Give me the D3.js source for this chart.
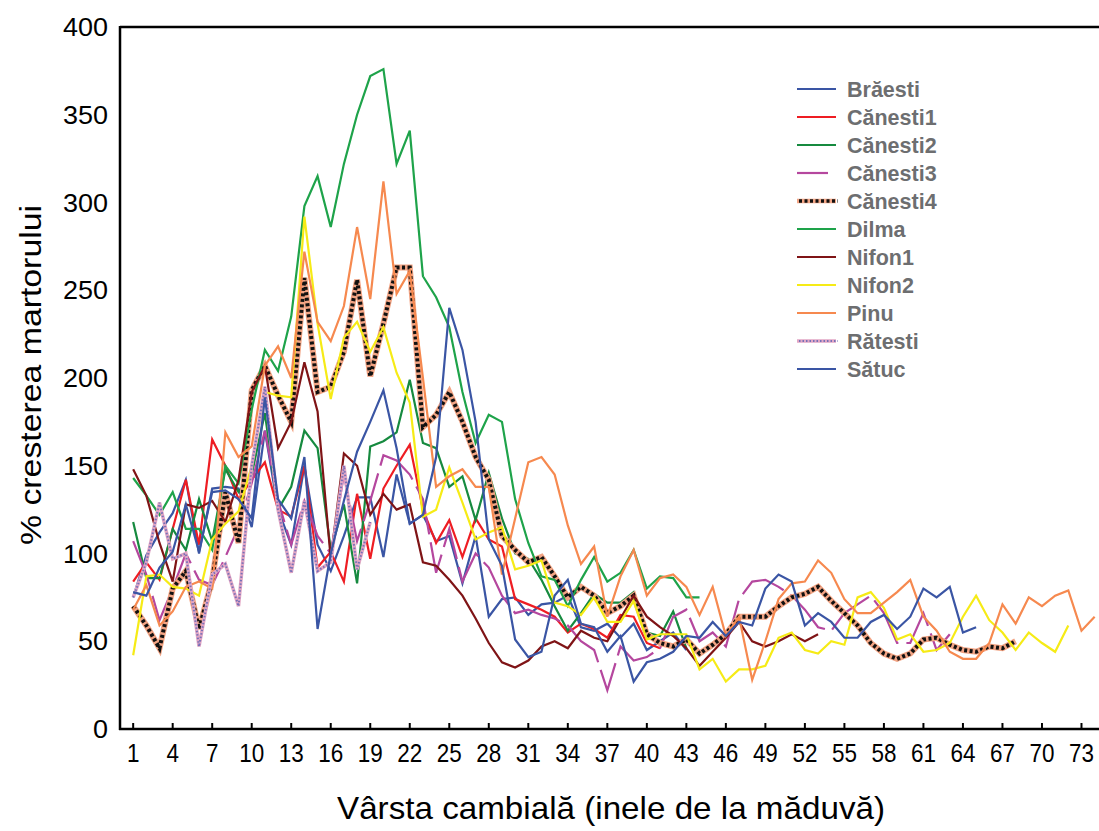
<!DOCTYPE html>
<html><head><meta charset="utf-8">
<script src="https://cdn.jsdelivr.net/npm/d3@7"></script>
<style>body{margin:0;background:#fff}</style>
</head><body><svg id="c" width="1099" height="831"></svg>
<script>
const xTicks = [1,4,7,10,13,16,19,22,25,28,31,34,37,40,43,46,49,52,55,58,61,64,67,70,73];
const yTicks = [0,50,100,150,200,250,300,350,400];
const seriesNames = ["Brăesti","Cănesti1","Cănesti2","Cănesti3","Cănesti4","Dilma","Nifon1","Nifon2","Pinu","Rătesti","Sătuc"];

// values by cambial age, starting at age 1
const braesti  = [75,99,112,123,142,100,137,138,137,115,170,125,105,150,105,90,110,132,132,98,145,117,122,107,110,83,110,64,74,75,65,71,72,76,58,56,60,52,60,45,50,55,45];
const canesti1 = [84,95,85,114,142,105,165,150,131,142,152,125,121,150,92,101,84,134,97,137,150,162,125,106,119,98,120,108,104,74,71,68,64,55,60,57,52,65,64,49,46];
const canesti2 = [118,86,86,114,102,131,107,148,135,145,180,125,138,170,160,102,128,83,161,164,169,199,163,160,138,144,119,146,120,100,97,85,70,56,66,77,72,72,78,55,53,67,46];
const canesti3 = [107,88,62,80,100,85,82,98,115,140,170,130,105,130,110,100,145,107,130,156,153,145,131,89,114,84,100,92,76,66,68,65,63,59,50,45,22,47,39,41,46,64,68,50,55,47,74,84,85,81,76,68,58,56,66,71,76,66,49,49,66,45,54];
const canesti4 = [70,59,46,80,90,57,85,135,106,193,207,190,175,257,192,195,215,256,201,231,263,263,172,179,192,175,155,142,110,102,95,98,87,75,81,76,66,70,76,54,49,47,51,43,48,54,64,64,64,70,75,77,81,73,66,59,49,43,40,43,51,52,48,45,44,47,46,50];
const dilma    = [143,133,122,135,114,114,102,150,140,182,216,204,235,298,315,286,322,350,372,376,322,341,258,246,229,192,163,179,175,131,106,87,85,70,85,98,84,89,102,80,87,86,75,75];
const nifon1   = [148,133,106,84,128,126,130,118,142,192,207,160,175,209,181,97,157,150,122,134,125,128,95,93,85,76,63,49,38,35,39,47,50,46,56,52,50,63,76,64,58,53,46,36,44,52,61,50,47,50,54,50,54];
const nifon2   = [42,87,88,81,80,76,108,117,124,150,192,190,189,292,231,188,223,232,215,229,203,186,121,125,149,129,108,112,115,91,93,96,72,70,65,75,61,61,73,51,54,54,54,34,40,27,34,34,36,52,55,45,43,50,48,75,78,69,51,54,44,45,49,64,76,62,55,45,55,49,44,59];
const pinu     = [68,82,59,67,81,84,80,169,155,161,207,218,200,272,232,221,241,286,245,312,248,261,200,138,144,148,138,138,88,120,152,155,145,116,94,104,64,87,102,76,86,88,81,65,81,53,64,28,50,74,83,84,96,89,74,66,66,72,78,85,64,56,44,40,40,49,71,60,75,70,76,79,56,64];
const ratesti  = [75,95,129,97,100,47,88,94,70,150,195,125,89,130,90,95,150,91,118];
const satuc    = [78,76,92,101,128,101,135,136,131,120,189,131,120,155,57,100,130,158,175,193,160,117,122,155,240,216,175,108,93,51,41,44,76,85,60,58,44,53,27,38,40,44,53,52,61,53,61,59,80,88,84,59,66,61,52,52,61,65,57,64,80,75,81,55,58];

const seriesData = [braesti,canesti1,canesti2,canesti3,canesti4,dilma,nifon1,nifon2,pinu,ratesti,satuc];

const styles = [
  {color:"#3a55a4", w:2.2},
  {color:"#ee1d23", w:2.2},
  {color:"#168a3f", w:2.2},
  {color:"#b5479e", w:2.2, dash:"50,8"},
  {color:"#f2a484", w:6, over:{color:"#111", w:4, dash:"3,2.5"}},
  {color:"#1ea34a", w:2.2},
  {color:"#7f1416", w:2.2},
  {color:"#f6eb16", w:2.2},
  {color:"#f6894f", w:2.2},
  {color:"#e2a6c4", w:3.5, over:{color:"#7670b8", w:2, dash:"1.5,2"}},
  {color:"#3a55a4", w:2.2}
];

const svg = d3.select("#c");
const x = d3.scaleLinear().domain([0, 74.33]).range([120, 1099]);
const y = d3.scaleLinear().domain([0, 400]).range([729, 27]);
const font = "'Liberation Sans', Arial, sans-serif";

svg.append("defs").append("clipPath").attr("id","clip")
  .append("rect").attr("x",120).attr("y",27).attr("width",979).attr("height",702);

const line = d3.line().defined(d => d.v != null).x(d => x(d.age)).y(d => y(d.v));
const g = svg.append("g").attr("clip-path","url(#clip)");
seriesData.forEach((arr, i) => {
  const pts = arr.map((v, k) => ({age: k + 1, v}));
  const s = styles[i];
  const p = g.append("path").attr("d", line(pts)).attr("fill","none")
    .attr("stroke", s.color).attr("stroke-width", s.w).attr("stroke-linejoin","miter");
  if (s.dash) p.attr("stroke-dasharray", s.dash);
  if (s.over) {
    g.append("path").attr("d", line(pts)).attr("fill","none")
      .attr("stroke", s.over.color).attr("stroke-width", s.over.w)
      .attr("stroke-dasharray", s.over.dash);
  }
});

// axes
svg.append("line").attr("x1",120).attr("x2",1099).attr("y1",27).attr("y2",27).attr("stroke","#000").attr("stroke-width",2.5);
svg.append("line").attr("x1",120).attr("x2",120).attr("y1",26).attr("y2",730).attr("stroke","#000").attr("stroke-width",2.5);
svg.append("line").attr("x1",119).attr("x2",1099).attr("y1",729).attr("y2",729).attr("stroke","#000").attr("stroke-width",2.5);

xTicks.forEach(t => {
  svg.append("line").attr("x1",x(t)).attr("x2",x(t)).attr("y1",729).attr("y2",723).attr("stroke","#000").attr("stroke-width",2);
  const s = String(t);
  svg.append("text").attr("x",x(t)).attr("y",762).attr("text-anchor","middle")
    .attr("font-family",font).attr("font-size",25)
    .attr("textLength", s.length*12.5).attr("lengthAdjust","spacingAndGlyphs").text(s);
});
yTicks.forEach(t => {
  const s = String(t);
  svg.append("text").attr("x",108).attr("y",y(t)+9).attr("text-anchor","end")
    .attr("font-family",font).attr("font-size",25.5)
    .attr("textLength", s.length*15).attr("lengthAdjust","spacingAndGlyphs").text(s);
});

svg.append("text").attr("x",611).attr("y",819).attr("text-anchor","middle")
  .attr("font-family",font).attr("font-size",32)
  .attr("textLength",548).attr("lengthAdjust","spacingAndGlyphs")
  .text("Vârsta cambială (inele de la măduvă)");
svg.append("text").attr("transform","translate(41,375) rotate(-90)").attr("text-anchor","middle")
  .attr("font-family",font).attr("font-size",30)
  .attr("textLength",340).attr("lengthAdjust","spacingAndGlyphs")
  .text("% cresterea martorului");

// legend
seriesNames.forEach((name, i) => {
  const ry = 89 + i*28;
  const s = styles[i];
  svg.append("line").attr("x1",797).attr("x2", i===3 ? 828 : 836).attr("y1",ry).attr("y2",ry)
    .attr("stroke", s.color).attr("stroke-width", Math.min(s.w, 4.5));
  if (s.over) {
    svg.append("line").attr("x1",799).attr("x2",838).attr("y1",ry).attr("y2",ry)
      .attr("stroke", s.over.color).attr("stroke-width", Math.min(s.over.w,3.5)).attr("stroke-dasharray", s.over.dash);
  }
  svg.append("text").attr("x",847).attr("y",ry+7.5).attr("font-family",font)
    .attr("font-size",21.5).attr("font-weight","bold").attr("fill","#6d6e70").text(name);
});
</script></body></html>
